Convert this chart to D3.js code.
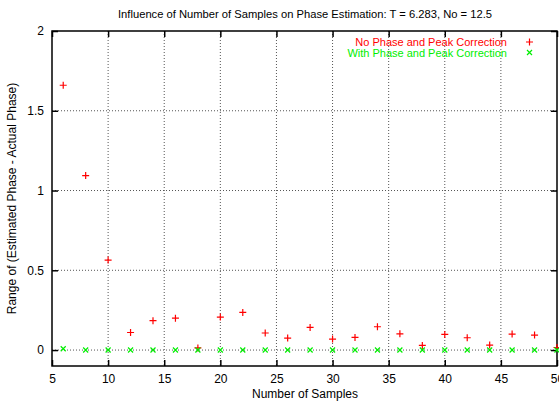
<!DOCTYPE html>
<html>
<head>
<meta charset="utf-8">
<script src="https://cdn.jsdelivr.net/npm/d3@7"></script>
<style>
  body { margin: 0; background: #fff; }
  text { font-family: "Liberation Sans", Arial, Helvetica, sans-serif; }
</style>
</head>
<body>
<div id="chart"></div>
<script>
// samples count on x
var samples = [6, 8, 10, 12, 14, 16, 18, 20, 22, 24, 26, 28, 30, 32, 34, 36, 38, 40, 42, 44, 46, 48, 50];
var noCorrection = [1.66, 1.094, 0.564, 0.11, 0.184, 0.2, 0.013, 0.207, 0.236, 0.107, 0.075, 0.142, 0.069, 0.079, 0.146, 0.102, 0.029, 0.098, 0.077, 0.031, 0.1, 0.094, 0.016];
var withCorrection = [0.008, 0, 0, 0, 0, 0, 0, 0, 0, 0, 0, 0, 0, 0, 0, 0, 0, 0, 0, 0, 0, 0, 0];
var xTicks = [5, 10, 15, 20, 25, 30, 35, 40, 45, 50];
var yTicks = [0, 0.5, 1, 1.5, 2];
var seriesNames = ["No Phase and Peak Correction", "With Phase and Peak Correction"];

var W = 559, H = 402;
var margin = {top: 31, right: 2, bottom: 36, left: 52};

var svg = d3.select("#chart").append("svg")
    .attr("width", W)
    .attr("height", H);

var x = d3.scaleLinear().domain([5, 50]).range([margin.left, W - margin.right]);
var y = d3.scaleLinear().domain([-0.1, 2]).range([H - margin.bottom, margin.top]);

var pLeft = margin.left, pRight = W - margin.right,
    pTop = margin.top, pBottom = H - margin.bottom;

// grid
svg.selectAll(".vgrid")
    .data(xTicks.filter(function(d) { return d > 5 && d < 50; }))
  .enter().append("line")
    .attr("x1", function(d) { return x(d); })
    .attr("x2", function(d) { return x(d); })
    .attr("y1", pTop).attr("y2", pBottom)
    .attr("stroke", "#555").attr("stroke-width", 1)
    .attr("stroke-dasharray", "1,2");

svg.selectAll(".hgrid")
    .data(yTicks.filter(function(d) { return d < 2; }))
  .enter().append("line")
    .attr("y1", function(d) { return y(d); })
    .attr("y2", function(d) { return y(d); })
    .attr("x1", pLeft).attr("x2", pRight)
    .attr("stroke", "#555").attr("stroke-width", 1)
    .attr("stroke-dasharray", "1,2");

// axes with inward ticks, mirrored
svg.append("g")
    .attr("transform", "translate(0," + pBottom + ")")
    .call(d3.axisBottom(x).tickValues(xTicks).tickSizeInner(-6).tickSizeOuter(0).tickPadding(8)
      .tickFormat(d3.format("d")));
svg.append("g")
    .attr("transform", "translate(0," + pTop + ")")
    .call(d3.axisTop(x).tickValues(xTicks).tickSizeInner(-6).tickSizeOuter(0).tickFormat(""));
svg.append("g")
    .attr("transform", "translate(" + pLeft + ",0)")
    .call(d3.axisLeft(y).tickValues(yTicks).tickSizeInner(-6).tickSizeOuter(0).tickPadding(8)
      .tickFormat(function(d) { return d; }));
svg.append("g")
    .attr("transform", "translate(" + pRight + ",0)")
    .call(d3.axisRight(y).tickValues(yTicks).tickSizeInner(-6).tickSizeOuter(0).tickFormat(""));

svg.selectAll(".domain").remove();
svg.selectAll(".tick line").attr("stroke", "#000").attr("stroke-width", 1.5);
svg.selectAll(".tick text").attr("font-size", 12).attr("fill", "#000")
    .style("font-family", "'Liberation Sans', Arial, sans-serif");

svg.append("rect")
    .attr("x", pLeft).attr("y", pTop)
    .attr("width", pRight - pLeft).attr("height", pBottom - pTop)
    .attr("fill", "none").attr("stroke", "#000").attr("stroke-width", 1.5);

// markers
function plus(g, cx, cy, s, col) {
  g.append("path")
    .attr("d", "M" + (cx - s) + "," + cy + "H" + (cx + s) + "M" + cx + "," + (cy - s) + "V" + (cy + s))
    .attr("stroke", col).attr("stroke-width", 1.2).attr("fill", "none");
}
function cross(g, cx, cy, s, col) {
  g.append("path")
    .attr("d", "M" + (cx - s) + "," + (cy - s) + "L" + (cx + s) + "," + (cy + s) +
               "M" + (cx - s) + "," + (cy + s) + "L" + (cx + s) + "," + (cy - s))
    .attr("stroke", col).attr("stroke-width", 1.2).attr("fill", "none");
}

var pts = svg.append("g");
samples.forEach(function(s, i) {
  plus(pts, x(s), y(noCorrection[i]), 3.5, "#ff0000");
});
samples.forEach(function(s, i) {
  cross(pts, x(s), y(withCorrection[i]), 2.5, "#00ee00");
});

// legend
var legColors = ["#ff0000", "#00ee00"];
seriesNames.forEach(function(n, i) {
  var ly = 42 + i * 10.5;
  svg.append("text")
    .attr("x", 507).attr("y", ly + 4)
    .attr("text-anchor", "end")
    .attr("font-size", 11)
    .attr("fill", legColors[i])
    .text(n);
  if (i == 0) plus(svg, 529.5, ly, 3.5, legColors[i]);
  else cross(svg, 529.5, ly, 2.5, legColors[i]);
});

// title and labels
svg.append("text")
    .attr("x", 305).attr("y", 18)
    .attr("text-anchor", "middle")
    .attr("font-size", 11.2)
    .text("Influence of Number of Samples on Phase Estimation: T = 6.283, No = 12.5");

svg.append("text")
    .attr("x", 305).attr("y", 398)
    .attr("text-anchor", "middle")
    .attr("font-size", 12)
    .text("Number of Samples");

svg.append("text")
    .attr("transform", "translate(16," + ((pTop + pBottom) / 2) + ") rotate(-90)")
    .attr("text-anchor", "middle")
    .attr("font-size", 12)
    .text("Range of (Estimated Phase - Actual Phase)");
</script>
</body>
</html>
